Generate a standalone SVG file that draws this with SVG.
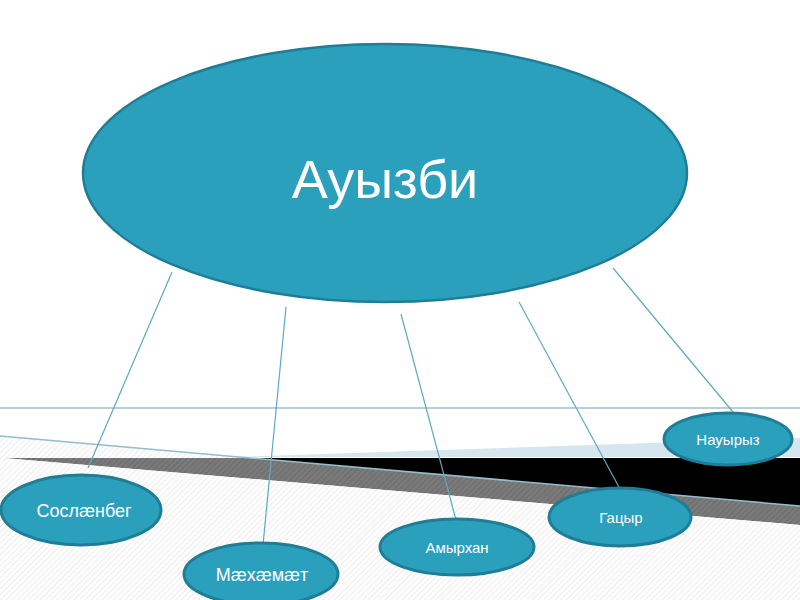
<svg xmlns="http://www.w3.org/2000/svg" width="800" height="600" viewBox="0 0 800 600">
<defs>
<pattern id="hatch" width="4" height="4" patternUnits="userSpaceOnUse" patternTransform="rotate(45)">
<rect width="4" height="4" fill="#ffffff"/>
<line x1="0" y1="0" x2="0" y2="4" stroke="#e6e6e6" stroke-width="1.5"/>
</pattern>
<pattern id="hatchDark" width="4" height="4" patternUnits="userSpaceOnUse" patternTransform="rotate(45)">
<rect width="4" height="4" fill="#7a7a7a"/>
<line x1="0" y1="0" x2="0" y2="4" stroke="#666666" stroke-width="1.5"/>
</pattern>
</defs>
<style>
.node ellipse{fill:#2ba0bd;stroke:#1f7d95;stroke-width:3}
.node text{fill:#ffffff;font-family:"Liberation Sans",Arial,sans-serif;text-anchor:middle}
.conn line{stroke:#5fa8c2;stroke-width:1.2}
</style>
<rect width="800" height="600" fill="#ffffff"/>
<g id="background">
<polygon points="0,436 800,506 800,600 0,600" fill="url(#hatch)"/>
<polygon points="3,458 251,458 800,506 800,525" fill="url(#hatchDark)"/>
<polygon points="800,525 3,458 0,458 0,600 800,600" fill="url(#hatch)"/>
<polygon points="251,458 800,458 800,506" fill="#000000"/>
<polygon points="230,457 800,438 800,457" fill="#d6e6ee"/>
<line x1="0" y1="408" x2="800" y2="408" stroke="#6f9fb3" stroke-width="1.2"/>
<line x1="0" y1="436" x2="800" y2="506" stroke="#93bccc" stroke-width="1.5"/>
</g>
<g id="connectors" class="conn">
<line x1="172" y1="272" x2="88" y2="468"/>
<line x1="286" y1="307" x2="263" y2="545"/>
<line x1="401" y1="314" x2="456" y2="520"/>
<line x1="519" y1="302" x2="620" y2="489"/>
<line x1="613" y1="268" x2="733" y2="412"/>
</g>
<g id="n-auyzbi" class="node">
<ellipse cx="385" cy="173" rx="302" ry="129" style="stroke-width:2.5"/>
<text x="385" y="198" font-size="54">Ауызби</text>
</g>
<g id="n-soslanbeg" class="node">
<ellipse cx="81" cy="510" rx="80" ry="35"/>
<text x="84" y="517" font-size="18">Сослæнбег</text>
</g>
<g id="n-maxamat" class="node">
<ellipse cx="261" cy="574" rx="77" ry="31"/>
<text x="262" y="581" font-size="18">Мæхæмæт</text>
</g>
<g id="n-amyrxan" class="node">
<ellipse cx="457" cy="547" rx="77" ry="28"/>
<text x="457" y="553" font-size="15">Амырхан</text>
</g>
<g id="n-gatsyr" class="node">
<ellipse cx="620" cy="517" rx="71" ry="29"/>
<text x="621" y="523" font-size="15">Гацыр</text>
</g>
<g id="n-nauyryz" class="node">
<ellipse cx="728" cy="439" rx="64" ry="26"/>
<text x="728" y="445" font-size="15">Науырыз</text>
</g>
</svg>
